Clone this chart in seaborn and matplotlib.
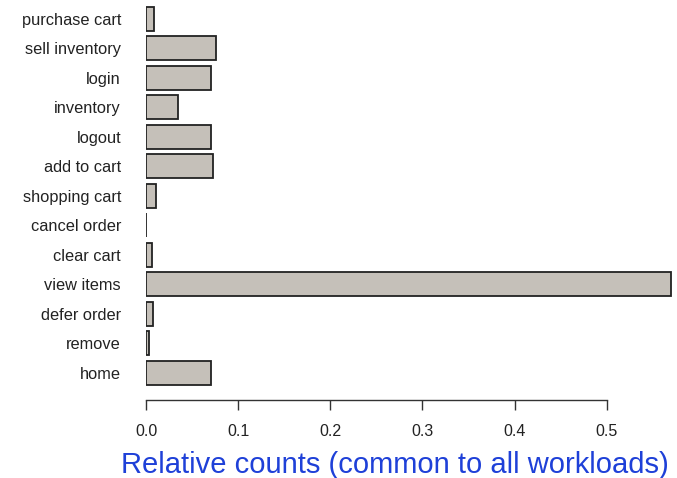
import seaborn as sns
import matplotlib.pyplot as plt
import pandas as pd

actions = ["purchase cart", "sell inventory", "login", "inventory", "logout",
           "add to cart", "shopping cart", "cancel order", "clear cart",
           "view items", "defer order", "remove", "home"]
counts = [0.009, 0.076, 0.070, 0.035, 0.070, 0.073, 0.0105, 0.0005,
          0.0065, 0.570, 0.008, 0.0033, 0.070]
ticks = [0.0, 0.1, 0.2, 0.3, 0.4, 0.5]

df = pd.DataFrame({"action": actions, "count": counts})

sns.set_style("white")
plt.rcParams['font.family'] = ['Liberation Sans', 'DejaVu Sans']

fig = plt.figure(figsize=(6.77, 4.78), dpi=100)
ax = fig.add_axes([146 / 677, 78 / 478, (675 - 146) / 677, (400 - 4) / 478])

sns.barplot(data=df, x="count", y="action", orient="h", color="#c5c0b9",
            saturation=1, width=0.82, edgecolor="#222222", linewidth=1.3, ax=ax)

ax.set_xlim(0, 0.574)
ax.set_ylim(12.92, -0.5)
for s in ["top", "right", "left"]:
    ax.spines[s].set_visible(False)
ax.spines["bottom"].set_bounds(0, 0.5)
ax.spines["bottom"].set_color("#333333")
ax.spines["bottom"].set_linewidth(1.0)
ax.set_xticks(ticks)
ax.set_xticklabels([f"{t:.1f}" for t in ticks])
ax.tick_params(axis="x", direction="out", length=7, width=1.0, color="#333333",
               labelsize=11.5, pad=10, labelcolor="#222222", bottom=True)
ax.tick_params(axis="y", length=0, labelsize=11.8, pad=18, labelcolor="#222222")
ax.set_ylabel("")
ax.set_xlabel("Relative counts (common to all workloads)", fontsize=21,
              color="#1e40d8")
ax.xaxis.set_label_coords((395 - 146) / (675 - 146), -0.13)

fig.savefig("out.png", dpi=100)
